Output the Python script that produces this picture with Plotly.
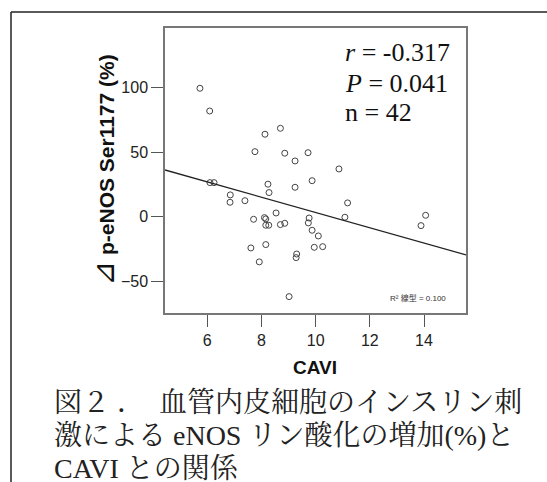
import plotly.graph_objects as go
import numpy as np

cavi = [5.73, 6.09, 6.10, 6.25, 6.85, 6.84, 7.39, 7.76, 8.13, 8.70, 8.86, 9.24, 9.72, 10.86,
        8.24, 8.28, 9.24, 9.87, 11.18, 11.08, 8.54, 7.71, 8.11, 8.16, 8.16, 8.27, 8.70, 8.86,
        9.76, 9.73, 9.87, 10.10, 9.95, 10.26, 7.61, 8.16, 7.92, 9.30, 9.28, 9.02, 14.06, 13.89]
peNOS = [99.5, 81.9, 26.4, 26.4, 16.9, 11.2, 12.4, 50.4, 63.9, 68.5, 49.2, 43.2, 49.6, 37.0,
         25.2, 18.7, 22.8, 27.9, 10.7, -0.4, 2.9, -2.0, -0.7, -1.7, -6.6, -6.6, -6.1, -5.1,
         -1.0, -4.8, -10.5, -14.9, -23.7, -23.2, -24.2, -21.6, -35.0, -28.9, -31.7, -61.9, 1.1, -6.9]

fit_intercept = 62.5
fit_slope = -5.92
x_range = [4.44, 15.55]
y_range = [-74.6, 146.2]
x_ticks = [6, 8, 10, 12, 14]
y_ticks = [-50, 0, 50, 100]

stats_lines = ["<i>r</i> = -0.317", "<i>P</i> = 0.041", "n = 42"]
r2_label = "R² 線型 = 0.100"
y_title_symbol = "⊿"
y_title = "p-eNOS Ser1177 (%)"
x_title = "CAVI"
caption_lines = ["図２ ．  血管内皮細胞のインスリン刺",
                 "激による eNOS リン酸化の増加(%)と",
                 "CAVI との関係"]

fig = go.Figure()
fig.add_trace(go.Scatter(
    x=cavi, y=peNOS, mode="markers",
    marker=dict(symbol="circle-open", size=6, color="#444", line=dict(width=1, color="#444")),
    showlegend=False, hoverinfo="skip"))

lx = np.array(x_range)
fig.add_trace(go.Scatter(
    x=lx, y=fit_intercept + fit_slope * lx, mode="lines",
    line=dict(color="#222", width=1.3), showlegend=False, hoverinfo="skip"))

W, H = 547, 482
L, R, T, B = 165, 466, 28, 313
pw, ph = R - L, B - T

def px(x):
    return (x - L) / pw

def py(y):
    return (B - y) / ph

fig.update_layout(
    width=W, height=H,
    margin=dict(l=L, r=W - R, t=T, b=H - B),
    paper_bgcolor="white", plot_bgcolor="white",
    xaxis=dict(range=x_range, tickvals=x_ticks, showgrid=False, zeroline=False,
               showline=True, linecolor="#777", linewidth=1.5, mirror=True,
               ticks="outside", ticklen=12, tickcolor="#555", tickwidth=1.2,
               tickfont=dict(family="Liberation Sans, Arial", size=16, color="#222")),
    yaxis=dict(range=y_range, tickvals=y_ticks, showgrid=False, zeroline=False,
               showline=True, linecolor="#777", linewidth=1.5, mirror=True,
               ticks="outside", ticklen=12, tickcolor="#555", tickwidth=1.2,
               tickfont=dict(family="Liberation Sans, Arial", size=16, color="#222")),
)

serif = "Liberation Serif, Times New Roman, serif"
for txt, yc in zip(stats_lines, [52, 83, 112]):
    fig.add_annotation(x=px(343), y=py(yc), xref="paper", yref="paper", text=txt,
                       showarrow=False, xanchor="left", yanchor="middle",
                       font=dict(family=serif, size=26, color="#111"))

fig.add_annotation(x=px(448), y=py(298), xref="paper", yref="paper", text=r2_label,
                   showarrow=False, xanchor="right", yanchor="middle",
                   font=dict(family="Liberation Sans, Noto Sans CJK JP", size=8, color="#333"))

fig.add_annotation(x=px(103), y=py(170), xref="paper", yref="paper",
                   text="<span style='font-size:30px;font-weight:normal'>" + y_title_symbol + "</span><b> " + y_title + "</b>",
                   textangle=-90, showarrow=False,
                   xanchor="center", yanchor="middle",
                   font=dict(family="Liberation Sans, Arial, DejaVu Sans", size=21, color="#111"))

fig.add_annotation(x=px(315), y=py(367), xref="paper", yref="paper",
                   text="<b>" + x_title + "</b>", showarrow=False,
                   xanchor="center", yanchor="middle",
                   font=dict(family="Liberation Sans, Arial", size=19, color="#111"))

for txt, yc in zip(caption_lines, [402, 435, 468]):
    fig.add_annotation(x=px(52), y=py(yc), xref="paper", yref="paper", text=txt,
                       showarrow=False, xanchor="left", yanchor="middle",
                       font=dict(family="Liberation Serif, Noto Serif CJK JP, Noto Sans CJK JP", size=28, color="#222"))

# outer frame lines (top and left)
fig.add_shape(type="line", xref="paper", yref="paper", x0=px(11), x1=px(W), y0=py(12), y1=py(12),
              line=dict(color="#222", width=1.5))
fig.add_shape(type="line", xref="paper", yref="paper", x0=px(11), x1=px(11), y0=py(12), y1=py(H + 5),
              line=dict(color="#222", width=1.5))

fig.write_html("out.html", config={"displayModeBar": False},
               post_script="document.body.style.margin='0';")
